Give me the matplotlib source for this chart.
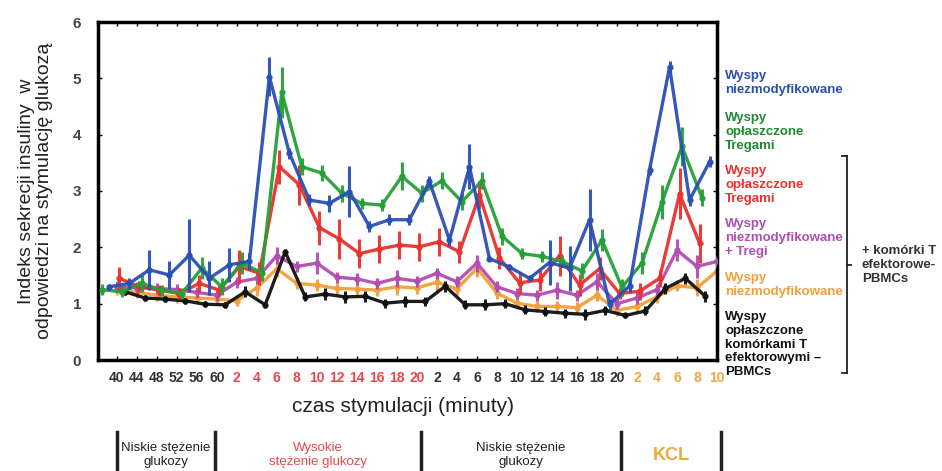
import numpy as np
import matplotlib.pyplot as plt
from matplotlib.lines import Line2D

plt.rcParams['font.family'] = ['Liberation Sans', 'DejaVu Sans']

# tick labels (minutes), grouped by stimulation phase
low1_labels = ['40', '44', '48', '52', '56', '60']
high_labels = ['2', '4', '6', '8', '10', '12', '14', '16', '18', '20']
low2_labels = ['2', '4', '6', '8', '10', '12', '14', '16', '18', '20']
kcl_labels = ['2', '4', '6', '8', '10']

# insulin secretion index per series
blue_vals = [1.30, 1.36, 1.60, 1.51, 1.86, 1.45, 1.69, 1.75, 5.03, 3.67, 2.84, 2.78, 2.99, 2.37, 2.49, 2.49,
             3.17, 2.13, 3.43, 1.80, 1.65, 1.45, 1.73, 1.63, 2.49, 0.99, 1.31, 3.38, 5.20, 2.84, 3.52]
blue_err = [0.05, 0.1, 0.35, 0.25, 0.65, 0.3, 0.3, 0.15, 0.35, 0.1, 0.1, 0.15, 0.45, 0.1, 0.1, 0.1,
            0.1, 0.1, 0.4, 0.05, 0.05, 0.05, 0.4, 0.4, 0.55, 0.1, 0.1, 0.1, 0.1, 0.1, 0.1]

green_vals = [1.25, 1.21, 1.36, 1.24, 1.18, 1.63, 1.30, 1.72, 1.55, 4.75, 3.43, 3.32, 2.96, 2.78, 2.75, 3.26,
              2.96, 3.18, 2.81, 3.18, 2.20, 1.89, 1.84, 1.75, 1.58, 2.13, 1.29, 1.72, 2.80, 3.79, 2.88]
green_err = [0.1, 0.1, 0.15, 0.1, 0.1, 0.2, 0.15, 0.2, 0.15, 0.45, 0.15, 0.15, 0.15, 0.1, 0.1, 0.25,
             0.15, 0.15, 0.15, 0.15, 0.15, 0.1, 0.1, 0.1, 0.15, 0.2, 0.15, 0.2, 0.3, 0.35, 0.15]

red_vals = [1.45, 1.30, 1.24, 1.18, 1.36, 1.24, 1.66, 1.54, 3.43, 3.11, 2.35, 2.15, 1.89, 1.97, 2.04,
            2.01, 2.10, 1.92, 2.93, 1.81, 1.37, 1.42, 1.85, 1.33, 1.62, 1.18, 1.22, 1.45, 2.95, 2.07]
red_err = [0.2, 0.1, 0.1, 0.1, 0.15, 0.1, 0.3, 0.2, 0.3, 0.35, 0.3, 0.35, 0.25, 0.25, 0.25,
           0.25, 0.25, 0.2, 0.25, 0.2, 0.2, 0.2, 0.35, 0.2, 0.2, 0.1, 0.15, 0.15, 0.45, 0.35]

purple_vals = [1.30, 1.28, 1.27, 1.25, 1.20, 1.15, 1.38, 1.45, 1.85, 1.66, 1.72, 1.47, 1.44, 1.36, 1.45, 1.40,
               1.54, 1.39, 1.72, 1.30, 1.18, 1.15, 1.24, 1.15, 1.39, 1.00, 1.10, 1.25, 1.95, 1.66, 1.75]
purple_err = [0.1, 0.1, 0.1, 0.1, 0.1, 0.1, 0.1, 0.1, 0.15, 0.1, 0.2, 0.1, 0.1, 0.1, 0.15, 0.1,
              0.1, 0.1, 0.15, 0.1, 0.1, 0.1, 0.15, 0.1, 0.15, 0.1, 0.1, 0.1, 0.2, 0.2, 0.1]

orange_vals = [1.25, 1.20, 1.15, 1.12, 1.10, 1.08, 1.05, 1.28, 1.62, 1.36, 1.33, 1.27, 1.26, 1.24, 1.30, 1.28,
               1.38, 1.26, 1.63, 1.19, 1.01, 0.95, 0.95, 0.93, 1.15, 0.88, 0.95, 1.12, 1.32, 1.28, 1.58]
orange_err = [0.1, 0.1, 0.1, 0.1, 0.1, 0.1, 0.1, 0.15, 0.15, 0.1, 0.1, 0.1, 0.1, 0.1, 0.15, 0.1,
              0.15, 0.1, 0.15, 0.1, 0.1, 0.1, 0.1, 0.1, 0.1, 0.1, 0.1, 0.1, 0.1, 0.15, 0.1]

black_vals = [1.21, 1.10, 1.08, 1.05, 0.99, 0.98, 1.21, 0.98, 1.92, 1.12, 1.17, 1.12, 1.13, 1.01, 1.04,
              1.04, 1.31, 0.98, 0.98, 1.00, 0.89, 0.86, 0.83, 0.81, 0.88, 0.79, 0.87, 1.27, 1.45, 1.13]
black_err = [0.05, 0.05, 0.05, 0.05, 0.05, 0.05, 0.1, 0.05, 0.05, 0.08, 0.1, 0.1, 0.1, 0.08, 0.1,
             0.08, 0.1, 0.08, 0.1, 0.08, 0.08, 0.08, 0.08, 0.1, 0.08, 0.05, 0.08, 0.1, 0.1, 0.1]

# (values, errors, colour, x shift, zorder)
series = [
    (orange_vals, orange_err, '#f2a03a', 0.0, 2),
    (purple_vals, purple_err, '#b24db4', 0.0, 3),
    (black_vals, black_err, '#111111', 0.42, 4),
    (red_vals, red_err, '#e8322e', 0.13, 5),
    (green_vals, green_err, '#25a038', -0.75, 6),
    (blue_vals, blue_err, '#2a50b4', -0.37, 7),
]

tick_labels = low1_labels + high_labels + low2_labels + kcl_labels
tick_colors = (['#333333'] * len(low1_labels) + ['#e8474a'] * len(high_labels)
               + ['#333333'] * len(low2_labels) + ['#f2a640'] * len(kcl_labels))

fig = plt.figure(figsize=(9.42, 4.71), dpi=100)
W, H = 942, 471
ax = fig.add_axes([98 / W, 1 - 360 / H, (717 - 98) / W, (360 - 22) / H])

for vals, err, col, dx, z in series:
    x = np.arange(len(vals)) + dx
    ax.errorbar(x, vals, yerr=err, fmt='-o', color=col, lw=2.4, ms=3.5,
                elinewidth=2.2, ecolor=col, capsize=0, zorder=z, alpha=0.95)

ax.set_xlim(-0.935, 30.0)
ax.set_ylim(0, 6)
ax.set_xticks(np.arange(len(tick_labels)))
ax.set_xticklabels(tick_labels, fontsize=10, fontweight='bold')
for lab, c in zip(ax.get_xticklabels(), tick_colors):
    lab.set_color(c)
ax.set_yticks(range(7))
ax.set_yticklabels([str(v) for v in range(7)], fontsize=11, fontweight='bold', color='#444444')
ax.tick_params(direction='in', length=3, width=1, top=True, right=True, pad=8)
ax.tick_params(axis='y', pad=12)
for sp in ax.spines.values():
    sp.set_linewidth(2.5)

ax.set_ylabel('Indeks sekrecji insuliny  w\nodpowiedzi na stymulację glukozą',
              fontsize=14, color='#222222', labelpad=14, linespacing=1.1)
fig.text(403 / W, 1 - 406 / H, 'czas stymulacji (minuty)', fontsize=15,
         ha='center', va='center', color='#222222')

# legend texts on the right
legend_items = [
    ('Wyspy\nniezmodyfikowane', '#2a50b4', 70),
    ('Wyspy\nopłaszczone\nTregami', '#1e8a30', 112),
    ('Wyspy\nopłaszczone\nTregami', '#e8322e', 165),
    ('Wyspy\nniezmodyfikowane\n+ Tregi', '#b24db4', 218),
    ('Wyspy\nniezmodyfikowane', '#f2a03a', 272),
    ('Wyspy\nopłaszczone\nkomórkami T\nefektorowymi –\nPBMCs', '#111111', 311),
]
for txt, col, ytop in legend_items:
    fig.text(725 / W, 1 - ytop / H, txt, fontsize=9.5, fontweight='bold', color=col,
             ha='left', va='top', linespacing=1.2)

# bracket for the effector T cell group
bx, by0, by1, bym = 847, 156, 373, 265
fig.add_artist(Line2D([bx / W] * 2, [1 - by0 / H, 1 - by1 / H], color='#222222', lw=1.3))
for yy in (by0, by1):
    fig.add_artist(Line2D([(bx - 5) / W, bx / W], [1 - yy / H] * 2, color='#222222', lw=1.3))
fig.add_artist(Line2D([bx / W, (bx + 4) / W], [1 - bym / H] * 2, color='#222222', lw=1.3))
fig.text(862 / W, 1 - 265 / H, '+ komórki T\nefektorowe-\nPBMCs', fontsize=9.5, fontweight='bold',
         color='#333333', ha='left', va='center', linespacing=1.25)

# phase table under the axis
for xb in (117, 215, 421, 621, 721):
    fig.add_artist(Line2D([xb / W] * 2, [1 - 432 / H, 0], color='#222222', lw=2.5))
phases = [
    ('Niskie stężenie\nglukozy', '#222222', 166, 'normal', 9.5),
    ('Wysokie\nstężenie glukozy', '#e8474a', 318, 'normal', 9.5),
    ('Niskie stężenie\nglukozy', '#222222', 521, 'normal', 9.5),
    ('KCL', '#f2a640', 671, 'bold', 13),
]
for txt, col, xc, fw, fs in phases:
    fig.text(xc / W, 1 - 455 / H, txt, fontsize=fs, fontweight=fw, color=col,
             ha='center', va='center', linespacing=1.2)

fig.savefig('out.png', dpi=100)
